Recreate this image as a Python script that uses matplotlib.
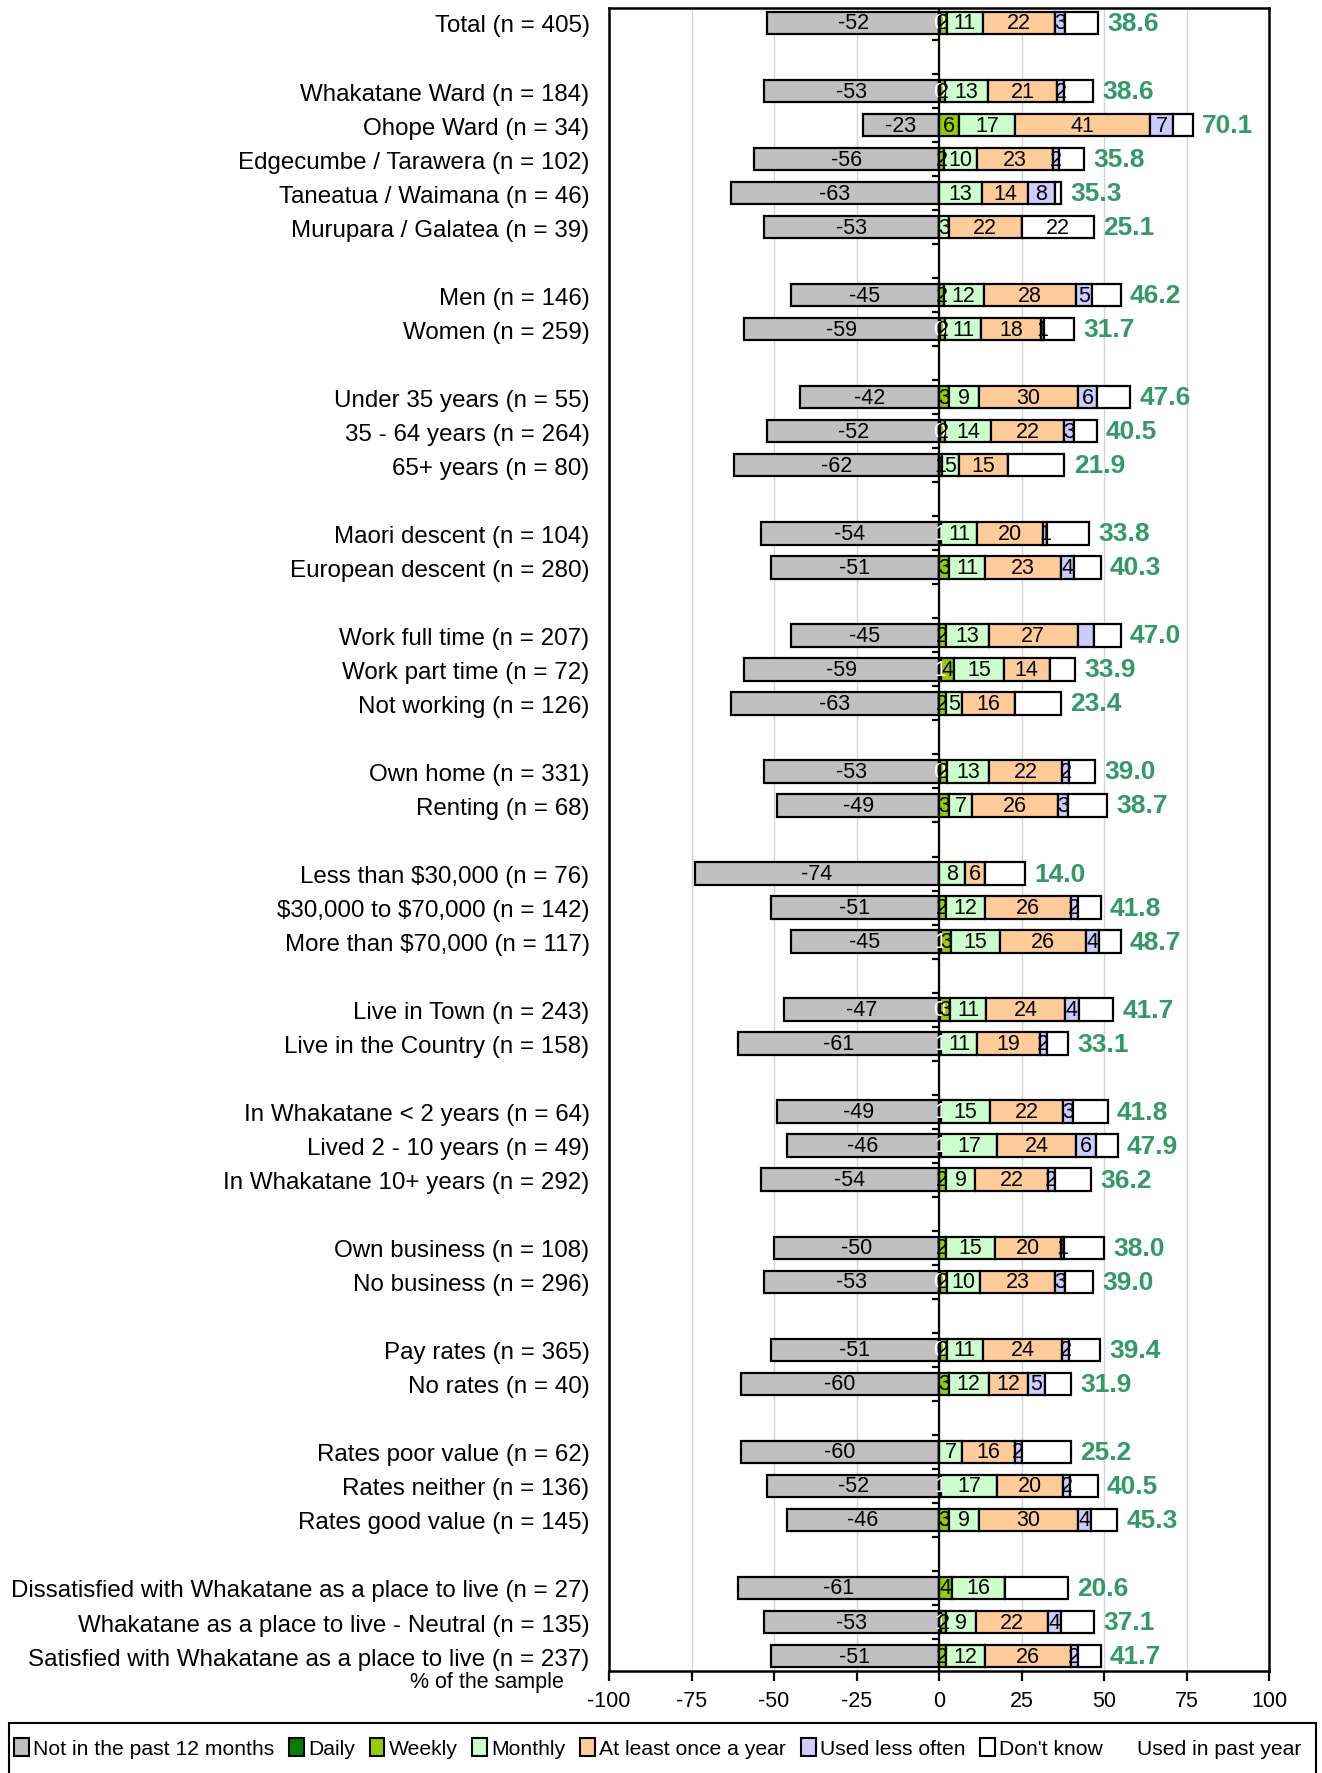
import matplotlib
matplotlib.use('Agg')
import matplotlib.pyplot as plt
from matplotlib.patches import Patch, Rectangle
from matplotlib.lines import TICKLEFT
import numpy as np

plt.rcParams['font.family'] = ['Liberation Sans', 'DejaVu Sans']
plt.rcParams['text.parse_math'] = False

# Respondent groups, a blank row between each group
groups = [
    ['Total (n = 405)'],
    ['Whakatane Ward (n = 184)', 'Ohope Ward (n = 34)', 'Edgecumbe / Tarawera (n = 102)',
     'Taneatua / Waimana (n = 46)', 'Murupara / Galatea (n = 39)'],
    ['Men (n = 146)', 'Women (n = 259)'],
    ['Under 35 years (n = 55)', '35 - 64 years (n = 264)', '65+ years (n = 80)'],
    ['Maori descent (n = 104)', 'European descent (n = 280)'],
    ['Work full time (n = 207)', 'Work part time (n = 72)', 'Not working (n = 126)'],
    ['Own home (n = 331)', 'Renting (n = 68)'],
    ['Less than $30,000 (n = 76)', '$30,000 to $70,000 (n = 142)', 'More than $70,000 (n = 117)'],
    ['Live in Town (n = 243)', 'Live in the Country (n = 158)'],
    ['In Whakatane < 2 years (n = 64)', 'Lived 2 - 10 years (n = 49)',
     'In Whakatane 10+ years (n = 292)'],
    ['Own business (n = 108)', 'No business (n = 296)'],
    ['Pay rates (n = 365)', 'No rates (n = 40)'],
    ['Rates poor value (n = 62)', 'Rates neither (n = 136)', 'Rates good value (n = 145)'],
    ['Dissatisfied with Whakatane as a place to live (n = 27)',
     'Whakatane as a place to live - Neutral (n = 135)',
     'Satisfied with Whakatane as a place to live (n = 237)'],
]

# % of the sample, one value per row (top to bottom)
not_past_12 = [52, 53, 23, 56, 63, 53, 45, 59, 42, 52, 62, 54, 51, 45, 59, 63, 53, 49,
               74, 51, 45, 47, 61, 49, 46, 54, 50, 53, 51, 60, 60, 52, 46, 61, 53, 51]
daily = [0.3, 0.3, 0, 0, 0, 0, 0, 0.3, 0, 0.3, 0, 0.6, 0, 0, 0.6, 0, 0.3, 0,
         0, 0, 0.6, 0.3, 0.6, 0.6, 0.6, 0, 0, 0.3, 0.3, 0, 0, 0.6, 0, 0, 0.6, 0]
weekly = [2, 1.5, 6, 1.5, 0, 0, 1.5, 1.5, 3, 1.5, 1, 0, 3, 2, 4, 2, 2, 3,
          0, 2, 3, 3, 0, 0, 0, 2, 2, 2, 2, 3, 0, 0, 3, 4, 1.5, 2]
monthly = [11, 13, 17, 10, 13, 3, 12, 11, 9, 14, 5, 11, 11, 13, 15, 5, 13, 7,
           8, 12, 15, 11, 11, 15, 17, 9, 15, 10, 11, 12, 7, 17, 9, 16, 9, 12]
yearly = [22, 21, 41, 23, 14, 22, 28, 18, 30, 22, 15, 20, 23, 27, 14, 16, 22, 26,
          6, 26, 26, 24, 19, 22, 24, 22, 20, 23, 24, 12, 16, 20, 30, 0, 22, 26]
less_often = [3, 2, 7, 2, 8, 0, 5, 1, 6, 3, 0, 1, 4, 5, 0, 0, 2, 3,
              0, 2, 4, 4, 2, 3, 6, 2, 1, 3, 2, 5, 2, 2, 4, 0, 4, 2]
dont_know = [10, 9, 6, 7.5, 2, 22, 8.5, 9, 10, 7, 17, 13, 8, 8, 7.5, 14, 8, 12,
             12, 7, 6.5, 10.5, 6.5, 10.5, 6.5, 11, 12, 8.5, 9.5, 8, 15, 8.5, 8, 19, 10, 7]
used_past_year = [38.6, 38.6, 70.1, 35.8, 35.3, 25.1, 46.2, 31.7, 47.6, 40.5, 21.9,
                  33.8, 40.3, 47.0, 33.9, 23.4, 39.0, 38.7, 14.0, 41.8, 48.7, 41.7,
                  33.1, 41.8, 47.9, 36.2, 38.0, 39.0, 39.4, 31.9, 25.2, 40.5, 45.3,
                  20.6, 37.1, 41.7]

series_names = ['Not in the past 12 months', 'Daily', 'Weekly', 'Monthly',
                'At least once a year', 'Used less often', "Don't know"]
colours = ['#c0c0c0', '#008000', '#99cc00', '#ccffcc', '#ffcc99', '#ccccff', '#ffffff']

# which segment labels the original shows / hides
dk_labelled = ['Murupara / Galatea (n = 39)']
unlabelled = [('Work full time (n = 207)', 'Used less often')]

# row positions: one blank slot between groups
labels, ypos = [], []
slot = 0
for g in groups:
    for name in g:
        labels.append(name)
        ypos.append(slot)
        slot += 1
    slot += 1
ypos = np.array(ypos)
last = ypos[-1]

fig = plt.figure(figsize=(13.22, 17.74), dpi=100)
ax = fig.add_axes([609 / 1322, 1 - 1672 / 1774, 660 / 1322, 1663 / 1774])

bar_h = 0.66
edge = dict(edgecolor='black', linewidth=1.6)

neg = np.array(not_past_12, dtype=float)
ax.barh(ypos, neg, left=-neg, height=bar_h, color=colours[0], zorder=2, **edge)
for y, v in zip(ypos, neg):
    ax.text(-v / 2, y, '%.0f' % -v, ha='center', va='center', fontsize=15.5, zorder=4)

right = [daily, weekly, monthly, yearly, less_often, dont_know]
left = np.zeros(len(labels))
for k, vals in enumerate(right):
    vals = np.array(vals, dtype=float)
    name = series_names[k + 1]
    ax.barh(ypos, vals, left=left, height=bar_h, color=colours[k + 1], zorder=2, **edge)
    for i, (y, v) in enumerate(zip(ypos, vals)):
        if v <= 0 or (labels[i], name) in unlabelled:
            continue
        if name == "Don't know" and labels[i] not in dk_labelled:
            continue
        ax.text(left[i] + v / 2, y, '%.0f' % v, ha='center', va='center', fontsize=15.5,
                color='white' if name == 'Daily' else 'black', zorder=4)
    left += vals

# used in past year totals
for y, end, v in zip(ypos, left, used_past_year):
    ax.text(end + 2.8, y, '%.1f' % v, ha='left', va='center', fontsize=19,
            fontweight='bold', color='#339966', zorder=4)

# zero line with category ticks
ax.axvline(0, color='black', lw=1.6, zorder=3)
ax.plot(np.zeros(last), np.arange(last) + 0.5, linestyle='none',
        marker=TICKLEFT, markersize=5, markeredgewidth=1.6, color='black', zorder=3)

ax.set_xlim(-100, 100)
ax.set_ylim(last + 0.44, -0.44)
ax.set_xticks(np.arange(-100, 101, 25))
ax.set_xticklabels(['%d' % t for t in np.arange(-100, 101, 25)])
ax.xaxis.grid(True, color='#d4d4d4', lw=1.0, zorder=0)
ax.set_axisbelow(True)
ax.tick_params(axis='x', direction='out', length=7, width=1.6, labelsize=15.5, pad=7)
ax.set_yticks(ypos)
ax.set_yticklabels(labels, fontsize=17.4)
ax.tick_params(axis='y', length=0, pad=14)
for s in ax.spines.values():
    s.set_linewidth(1.8)

fig.text(564 / 1322, 1 - 1683 / 1774, '% of the sample', ha='right', va='center',
         fontsize=15.5)

# legend along the bottom
handles = [Patch(facecolor=c, edgecolor='black', linewidth=1.5) for c in colours]
handles.append(Patch(facecolor='none', edgecolor='none'))
fig.legend(handles, series_names + ['Used in past year'], loc='center left',
           bbox_to_anchor=(14 / 1322, 1 - 1749 / 1774), ncol=8, frameon=False,
           fontsize=15.2, handlelength=0.7, handleheight=0.9, handletextpad=0.2,
           columnspacing=0.7, borderpad=0, borderaxespad=0)
fig.patches.append(Rectangle((9 / 1322, -0.01), 1307 / 1322, 50 / 1774 + 0.01,
                             transform=fig.transFigure, fill=False,
                             edgecolor='black', linewidth=1.5))

fig.savefig('out.png', dpi=100)
